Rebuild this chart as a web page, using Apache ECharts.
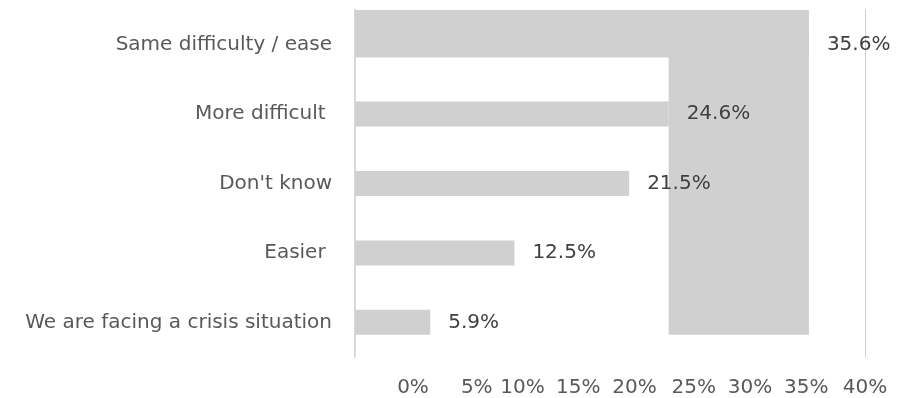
<!DOCTYPE html>
<html>
<head>
<meta charset="utf-8">
<script src="https://cdn.jsdelivr.net/npm/echarts@6/dist/echarts.min.js"></script>
<style>
  html, body { margin: 0; padding: 0; background: #ffffff; }
  #chart { width: 913px; height: 398px; }
</style>
</head>
<body>
<div id="chart"></div>
<script>
// Survey answers, top to bottom
const categories = [
  'Same difficulty / ease',
  'More difficult ',
  "Don't know",
  'Easier ',
  'We are facing a crisis situation'
];
// Share of respondents, in percent
const shares = [35.6, 24.6, 21.5, 12.5, 5.9];
// Horizontal axis tick labels
const tickLabels = ['0%', '5%', '10%', '15%', '20%', '25%', '30%', '35%', '40%'];

// Horizontal nudge (px) of each tick label from its tick
const tickLabelShift = [58, 58, 40, 32, 24.5, 20, 12.5, 5, 0];

const FONT = 'DejaVu Sans';
const BAR_COLOR = '#d0d0d0';
const BAR_GAP = 0.64;

const tickRich = {};
tickLabelShift.forEach(function (s, i) {
  tickRich['s' + i] = {
    padding: [0, 0, 0, 2 * s],
    fontFamily: FONT,
    fontSize: 20,
    color: '#595959'
  };
});

const chart = echarts.init(document.getElementById('chart'), null, { renderer: 'canvas' });

chart.setOption({
  animation: false,
  backgroundColor: '#ffffff',
  grid: { left: 355, right: 48, top: 10, bottom: 41, containLabel: false },
  xAxis: {
    type: 'value',
    min: 0,
    max: 40,
    interval: 5,
    axisLine: { show: false },
    axisTick: { show: false },
    splitLine: { show: false },
    axisLabel: {
      margin: 21,
      fontFamily: FONT,
      fontSize: 20,
      color: '#595959',
      formatter: function (value, index) {
        const i = Math.round(value / 5);
        return '{s' + i + '|' + tickLabels[i] + '}';
      },
      rich: tickRich
    }
  },
  yAxis: [
    {
      type: 'category',
      inverse: true,
      data: categories,
      axisLine: { show: true, lineStyle: { color: '#d9d9d9', width: 2 } },
      axisTick: { show: false },
      splitLine: { show: false },
      axisLabel: {
        margin: 23,
        fontFamily: FONT,
        fontSize: 20,
        color: '#595959'
      }
    },
    {
      type: 'category',
      inverse: true,
      position: 'right',
      data: categories,
      axisLine: { show: true, lineStyle: { color: '#d0d0d0', width: 1 } },
      axisTick: { show: false },
      axisLabel: { show: false },
      splitLine: { show: false }
    }
  ],
  series: [
    {
      // Overdrawn fill joining the first two answers' bar ends down the plot
      type: 'custom',
      z: 1,
      silent: true,
      data: [[shares[1], shares[0], 0, categories.length - 1]],
      renderItem: function (params, api) {
        const band = api.size([0, 1])[1];
        const half = band * (1 - BAR_GAP) / 2;
        const top = params.coordSys.y;
        const pHigh = api.coord([api.value(1), api.value(2)]);
        const pLow = api.coord([api.value(0), api.value(3)]);
        const pZero = api.coord([0, api.value(2)]);
        const style = { fill: BAR_COLOR };
        return {
          type: 'group',
          children: [
            {
              type: 'rect',
              shape: { x: pZero[0], y: top, width: pHigh[0] - pZero[0], height: pHigh[1] + half - top },
              style: style
            },
            {
              type: 'rect',
              shape: { x: pLow[0], y: top, width: pHigh[0] - pLow[0], height: pLow[1] + half - top },
              style: style
            }
          ]
        };
      }
    },
    {
      type: 'bar',
      z: 2,
      data: shares,
      barCategoryGap: (BAR_GAP * 100) + '%',
      itemStyle: { color: BAR_COLOR },
      label: {
        show: true,
        position: 'right',
        distance: 18,
        fontFamily: FONT,
        fontSize: 20,
        color: '#404040',
        formatter: function (p) { return p.value.toFixed(1) + '%'; }
      }
    }
  ]
});
</script>
</body>
</html>
